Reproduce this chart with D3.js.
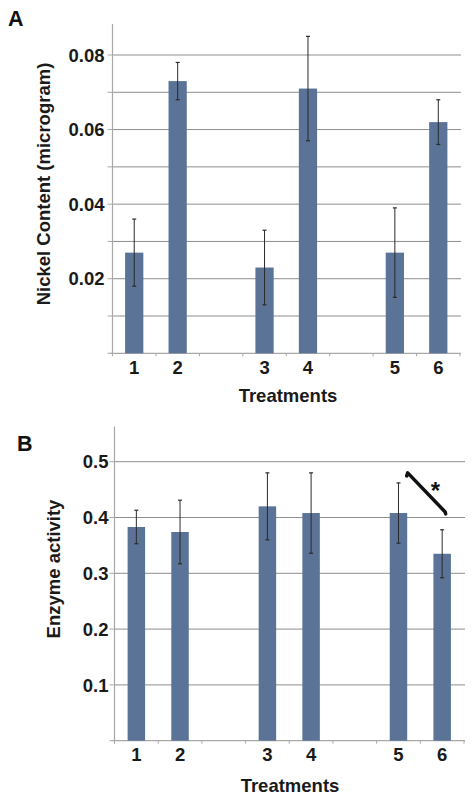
<!DOCTYPE html>
<html>
<head>
<meta charset="utf-8">
<script src="https://cdn.jsdelivr.net/npm/d3@7"></script>
<style>
html,body{margin:0;padding:0;background:#fff;}
svg{display:block;font-family:"Liberation Sans",Arial,sans-serif;font-weight:bold;}
</style>
</head>
<body>
<svg id="chart" width="473" height="802"></svg>
<script>
// ---- data ----
const treatments = ["1","2","3","4","5","6"];
const slots = ["1","2","gapA","3","4","gapB","5","6"];
const nickelValues = [0.027, 0.073, 0.023, 0.071, 0.027, 0.062];
const nickelErrors = [0.009, 0.005, 0.010, 0.014, 0.012, 0.006];
const nickelTicks = [0.02, 0.04, 0.06, 0.08];
const nickelGrid = [0.01,0.02,0.03,0.04,0.05,0.06,0.07,0.08];
const enzymeValues = [0.383, 0.374, 0.420, 0.408, 0.408, 0.335];
const enzymeErrors = [0.030, 0.057, 0.060, 0.072, 0.054, 0.043];
const enzymeTicks = [0.1, 0.2, 0.3, 0.4, 0.5];
const sigPair = {from:"5", to:"6", fromValue:0.48, toValue:0.41, label:"*"};

const svg = d3.select("#chart");
const barColor = "#5a7396";
const gridColor = "#8e8e8e";
const axisColor = "#a8a8a8";

function panel(cfg){
  const g = svg.append("g");
  const x = d3.scaleBand().domain(slots).range([cfg.left, cfg.right])
    .paddingInner(cfg.pad).paddingOuter(cfg.pad/2);
  const y = d3.scaleLinear().domain([0, cfg.refVal]).range([cfg.y0, cfg.yRef]);

  g.selectAll("line.grid").data(cfg.grid).join("line")
    .attr("x1", cfg.left).attr("x2", cfg.right + 1)
    .attr("y1", d => y(d)).attr("y2", d => y(d))
    .attr("stroke", gridColor).attr("stroke-width", 1);
  g.selectAll("line.ytick").data([0].concat(cfg.grid)).join("line")
    .attr("x1", cfg.left - 5).attr("x2", cfg.left)
    .attr("y1", d => y(d)).attr("y2", d => y(d))
    .attr("stroke", axisColor).attr("stroke-width", 1);
  g.append("line").attr("x1", cfg.left).attr("x2", cfg.left)
    .attr("y1", y(0)).attr("y2", y(cfg.axisTop))
    .attr("stroke", axisColor).attr("stroke-width", 1.2);
  g.append("line").attr("x1", cfg.left - 2).attr("x2", cfg.right + 1)
    .attr("y1", y(0)).attr("y2", y(0))
    .attr("stroke", axisColor).attr("stroke-width", 1.2);
  const bounds = d3.range(slots.length + 1).map(i => cfg.left + i * x.step());
  g.selectAll("line.xtick").data(bounds).join("line")
    .attr("x1", d => d).attr("x2", d => d)
    .attr("y1", y(0)).attr("y2", y(0) + 3)
    .attr("stroke", axisColor).attr("stroke-width", 1);
  g.selectAll("text.ylab").data(cfg.ticks).join("text")
    .attr("x", cfg.left - cfg.labGap).attr("y", d => y(d))
    .attr("dy", "0.36em").attr("text-anchor", "end")
    .attr("font-size", 18.5).attr("fill", "#1a1a1a")
    .text(cfg.fmt);
  const data = treatments.map((t, i) => ({t, v: cfg.values[i], e: cfg.errors[i]}));
  g.selectAll("rect.bar").data(data).join("rect")
    .attr("x", d => x(d.t)).attr("width", x.bandwidth())
    .attr("y", d => y(d.v)).attr("height", d => y(0) - y(d.v))
    .attr("fill", barColor);
  const eb = g.selectAll("g.err").data(data).join("g");
  const cx = d => x(d.t) + x.bandwidth() / 2;
  eb.append("line").attr("x1", cx).attr("x2", cx)
    .attr("y1", d => y(d.v + d.e)).attr("y2", d => y(d.v - d.e))
    .attr("stroke", "#2a2a2a").attr("stroke-width", 1);
  [1, -1].forEach(s => {
    eb.append("line").attr("x1", d => cx(d) - 2).attr("x2", d => cx(d) + 2)
      .attr("y1", d => y(d.v + s * d.e)).attr("y2", d => y(d.v + s * d.e))
      .attr("stroke", "#2a2a2a").attr("stroke-width", 1.2);
  });
  g.selectAll("text.xlab").data(treatments).join("text")
    .attr("x", d => x(d) + x.bandwidth() / 2).attr("y", y(0) + cfg.xlabOff)
    .attr("text-anchor", "middle").attr("font-size", 18.5).attr("fill", "#1a1a1a")
    .text(d => d);
  g.append("text").attr("x", cfg.xTitleX).attr("y", cfg.xTitleY)
    .attr("text-anchor", "middle").attr("font-size", 18.5).attr("fill", "#1a1a1a")
    .text("Treatments");
  g.append("text")
    .attr("transform", `translate(${cfg.yTitleX},${cfg.yTitleY}) rotate(-90)`)
    .attr("text-anchor", "middle").attr("dy", "0.36em")
    .attr("font-size", 18.5).attr("fill", "#1a1a1a")
    .text(cfg.yTitle);
  g.append("text").attr("x", cfg.letterX).attr("y", cfg.letterY)
    .attr("font-size", 21.5).attr("fill", "#111").text(cfg.letter);
  return {g, x, y};
}

panel({
  left: 112.5, right: 460, y0: 353.3, yRef: 55, refVal: 0.08, axisTop: 0.0883,
  pad: 0.58, grid: nickelGrid, ticks: nickelTicks, fmt: d3.format(".2f"), labGap: 8,
  values: nickelValues, errors: nickelErrors, xlabOff: 21,
  xTitleX: 288, xTitleY: 401.5, yTitleX: 43, yTitleY: 184,
  yTitle: "Nickel Content (microgram)", letter: "A", letterX: 8, letterY: 26
});

const pB = panel({
  left: 114.5, right: 464, y0: 740.7, yRef: 461.7, refVal: 0.5, axisTop: 0.563,
  pad: 0.6, grid: enzymeTicks, ticks: enzymeTicks, fmt: d3.format(".1f"), labGap: 6,
  values: enzymeValues, errors: enzymeErrors, xlabOff: 20,
  xTitleX: 290, xTitleY: 791.5, yTitleX: 53.5, yTitleY: 569,
  yTitle: "Enzyme activity", letter: "B", letterX: 17, letterY: 450.5
});

// significance bracket
const xs = pB.x.bandwidth();
const sx1 = pB.x(sigPair.from) + xs + 0.5, sy1 = pB.y(sigPair.fromValue);
const sx2 = pB.x(sigPair.to) + xs / 2 + 3, sy2 = pB.y(sigPair.toValue);
pB.g.append("path")
  .attr("d", `M${sx1 - 1},${sy1 + 3} L${sx1},${sy1} L${sx2},${sy2} L${sx2 + 0.5},${sy2 + 2}`)
  .attr("fill", "none").attr("stroke", "#111").attr("stroke-width", 3.5)
  .attr("stroke-linecap", "round").attr("stroke-linejoin", "round");
pB.g.append("text")
  .attr("x", (sx1 + sx2) / 2 + 9).attr("y", (sy1 + sy2) / 2 + 7)
  .attr("text-anchor", "middle").attr("font-size", 24).attr("fill", "#111")
  .text(sigPair.label);
</script>
</body>
</html>
